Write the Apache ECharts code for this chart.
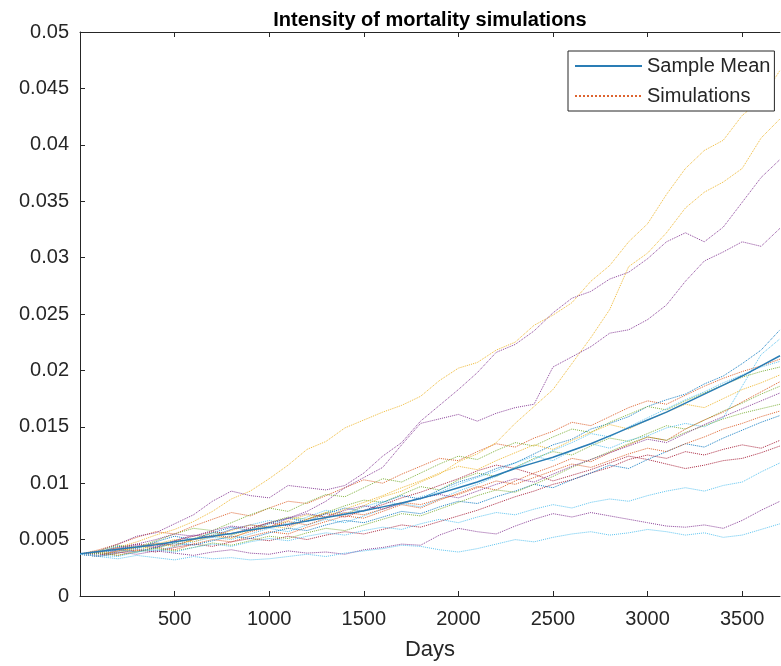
<!DOCTYPE html>
<html>
<head>
<meta charset="utf-8">
<title>Intensity of mortality simulations</title>
<script src="https://cdn.jsdelivr.net/npm/echarts@6.0.0/dist/echarts.min.js"></script>
<style>
  html, body { margin: 0; padding: 0; background: #fff; }
  #main { width: 781px; height: 666px; }
</style>
</head>
<body>
<div id="main"></div>
<script>
// sampling days
const days = [0, 100, 200, 300, 400, 500, 600, 700, 800, 900, 1000, 1100, 1200, 1300, 1400, 1500, 1600, 1700, 1800,
  1900, 2000, 2100, 2200, 2300, 2400, 2500, 2600, 2700, 2800, 2900, 3000, 3100, 3200, 3300, 3400, 3500, 3600, 3700];

// axis ticks
const xTicks = [500, 1000, 1500, 2000, 2500, 3000, 3500];
const yTicks = [0, 0.005, 0.01, 0.015, 0.02, 0.025, 0.03, 0.035, 0.04, 0.045, 0.05];

// sample mean
const sampleMean = [0.00375, 0.00395, 0.00415, 0.00435, 0.00455, 0.0048, 0.00505, 0.0053, 0.00555, 0.00585, 0.0061,
  0.00635, 0.00665, 0.00695, 0.00725, 0.00755, 0.0079, 0.00825, 0.00865, 0.0091, 0.0096, 0.0101, 0.0107, 0.0113,
  0.0118, 0.0123, 0.0129, 0.0135, 0.0142, 0.0149, 0.0156, 0.0163, 0.0171, 0.0179, 0.0187, 0.0195, 0.0204, 0.0213];

// simulations
const simOrange1 = [0.0037, 0.0041, 0.0046, 0.0052, 0.0057, 0.0055, 0.0062, 0.0068, 0.0074, 0.0071, 0.0078, 0.0084,
  0.0082, 0.0089, 0.0096, 0.0103, 0.01, 0.0108, 0.0115, 0.0122, 0.012, 0.0128, 0.0135, 0.0132, 0.014, 0.0146, 0.0154,
  0.0151, 0.0159, 0.0167, 0.0173, 0.017, 0.0178, 0.0186, 0.0193, 0.0199, 0.0204, 0.021];
const simYellowTop = [0.0037, 0.0039, 0.0043, 0.0048, 0.0054, 0.0059, 0.0066, 0.0075, 0.0086, 0.0093, 0.0104, 0.0116,
  0.013, 0.0137, 0.0149, 0.0156, 0.0163, 0.0169, 0.0177, 0.0191, 0.0202, 0.0207, 0.0218, 0.0225, 0.024, 0.0249, 0.026,
  0.0279, 0.0293, 0.0314, 0.033, 0.0356, 0.0379, 0.0395, 0.0404, 0.0426, 0.044, 0.0466];
const simPurpleTop = [0.0037, 0.004, 0.0046, 0.0053, 0.0056, 0.0064, 0.0072, 0.0084, 0.0093, 0.0089, 0.0087, 0.0098,
  0.0096, 0.0094, 0.0098, 0.0109, 0.0124, 0.0136, 0.0155, 0.0169, 0.0183, 0.0198, 0.0216, 0.0223, 0.0235, 0.0251,
  0.0264, 0.027, 0.0281, 0.0287, 0.0299, 0.0314, 0.0322, 0.0314, 0.0327, 0.0349, 0.0371, 0.0387];
const simGreen1 = [0.0037, 0.0036, 0.004, 0.0044, 0.0042, 0.0047, 0.0051, 0.0056, 0.0054, 0.0059, 0.0065, 0.007,
  0.0068, 0.0074, 0.008, 0.0085, 0.0083, 0.009, 0.0097, 0.0094, 0.0103, 0.0109, 0.0106, 0.0114, 0.0122, 0.0128,
  0.0125, 0.0133, 0.014, 0.0137, 0.0144, 0.0151, 0.0148, 0.0156, 0.0164, 0.0171, 0.0179, 0.0186];
const simLightBlue1 = [0.0037, 0.0035, 0.0039, 0.0043, 0.0047, 0.0045, 0.005, 0.0054, 0.0059, 0.0063, 0.0067, 0.0064,
  0.007, 0.0076, 0.0073, 0.0079, 0.0084, 0.0081, 0.0088, 0.0092, 0.0099, 0.0105, 0.0111, 0.0118, 0.0124, 0.012,
  0.0129, 0.0135, 0.0131, 0.0138, 0.0142, 0.0149, 0.0153, 0.015, 0.0158, 0.0186, 0.0214, 0.0228];
const simDarkRed1 = [0.0037, 0.0039, 0.0043, 0.0046, 0.0044, 0.0049, 0.0053, 0.0057, 0.0055, 0.006, 0.0065, 0.0062,
  0.0068, 0.0073, 0.007, 0.0076, 0.0081, 0.0087, 0.0092, 0.0098, 0.0104, 0.0111, 0.0116, 0.0113, 0.0108, 0.0102,
  0.0107, 0.0112, 0.0118, 0.0124, 0.0121, 0.0117, 0.0113, 0.0116, 0.012, 0.0122, 0.0127, 0.0133];
const simBlue1 = [0.0037, 0.0039, 0.0044, 0.0042, 0.0048, 0.0053, 0.005, 0.0056, 0.0061, 0.0058, 0.0064, 0.0069,
  0.0066, 0.0073, 0.0078, 0.0075, 0.0083, 0.0089, 0.0086, 0.0094, 0.0101, 0.0106, 0.0113, 0.0118, 0.0126, 0.0134,
  0.0139, 0.0148, 0.0153, 0.0159, 0.0168, 0.0174, 0.0179, 0.0188, 0.0195, 0.0206, 0.0218, 0.0236];
const simOrange2 = [0.0037, 0.0038, 0.0036, 0.004, 0.0043, 0.0041, 0.0046, 0.005, 0.0048, 0.0053, 0.0057, 0.0055,
  0.0061, 0.0066, 0.0071, 0.0069, 0.0075, 0.0081, 0.0078, 0.0085, 0.0091, 0.0097, 0.0094, 0.0102, 0.0109, 0.0115,
  0.0122, 0.0119, 0.0127, 0.0134, 0.0141, 0.0138, 0.0148, 0.0156, 0.0163, 0.0172, 0.0181, 0.019];
const simYellowSteep = [0.0037, 0.0038, 0.0042, 0.004, 0.0046, 0.0044, 0.005, 0.0053, 0.0051, 0.0058, 0.0062, 0.006,
  0.0068, 0.0074, 0.0072, 0.008, 0.0088, 0.0093, 0.0101, 0.0108, 0.0119, 0.0126, 0.0136, 0.0153, 0.0168, 0.0183,
  0.0206, 0.0229, 0.0254, 0.0292, 0.0304, 0.0322, 0.0344, 0.0358, 0.0367, 0.0379, 0.0406, 0.0423];
const simPurple2 = [0.0037, 0.0036, 0.0041, 0.0045, 0.0043, 0.0049, 0.0054, 0.0052, 0.0059, 0.0063, 0.0061, 0.0069,
  0.0075, 0.0084, 0.0096, 0.0105, 0.0114, 0.0134, 0.0153, 0.0157, 0.0161, 0.0155, 0.0162, 0.0167, 0.017, 0.0203,
  0.0212, 0.0221, 0.0233, 0.0236, 0.0245, 0.0258, 0.0279, 0.0297, 0.0305, 0.0314, 0.031, 0.0326];
const simGreen2 = [0.0037, 0.004, 0.0045, 0.0043, 0.0049, 0.0055, 0.006, 0.0058, 0.0065, 0.0072, 0.0078, 0.0075,
  0.0083, 0.009, 0.0088, 0.0096, 0.0104, 0.0101, 0.0109, 0.0117, 0.0124, 0.0121, 0.0129, 0.0136, 0.0133, 0.0141,
  0.0148, 0.0145, 0.0154, 0.0161, 0.0168, 0.0165, 0.0173, 0.018, 0.0187, 0.0194, 0.0199, 0.0203];
const simLightBlue2 = [0.0037, 0.0035, 0.0038, 0.0042, 0.004, 0.0044, 0.0048, 0.0052, 0.005, 0.0055, 0.006, 0.0057,
  0.0063, 0.0068, 0.0065, 0.0071, 0.0077, 0.0082, 0.0079, 0.0086, 0.0093, 0.0099, 0.0106, 0.0114, 0.0121, 0.0129,
  0.0136, 0.0144, 0.0141, 0.015, 0.0158, 0.0166, 0.0174, 0.0181, 0.0189, 0.0196, 0.0203, 0.0208];
const simDarkRed2 = [0.0037, 0.0035, 0.0038, 0.0041, 0.0039, 0.0043, 0.0046, 0.0044, 0.0048, 0.0051, 0.0049, 0.0053,
  0.005, 0.0054, 0.0057, 0.0055, 0.0059, 0.0063, 0.0061, 0.0066, 0.0071, 0.0076, 0.0082, 0.0088, 0.0093, 0.0099,
  0.0103, 0.0109, 0.0114, 0.0121, 0.0125, 0.0122, 0.0128, 0.0125, 0.013, 0.0134, 0.0131, 0.0138];
const simBlue2 = [0.0037, 0.0038, 0.0041, 0.0039, 0.0043, 0.0047, 0.0045, 0.0049, 0.0053, 0.0051, 0.0056, 0.006,
  0.0058, 0.0063, 0.0067, 0.0065, 0.007, 0.0075, 0.0073, 0.0079, 0.0084, 0.0082, 0.0088, 0.0093, 0.0099, 0.0096,
  0.0103, 0.0109, 0.0116, 0.0113, 0.0121, 0.0128, 0.0135, 0.0132, 0.014, 0.0147, 0.0154, 0.016];
const simOrange3 = [0.0037, 0.0036, 0.004, 0.0043, 0.0047, 0.0045, 0.005, 0.0054, 0.0052, 0.0057, 0.0061, 0.0066,
  0.0063, 0.0069, 0.0074, 0.0072, 0.0077, 0.0083, 0.0081, 0.0086, 0.009, 0.0096, 0.0102, 0.0099, 0.0105, 0.0111,
  0.0117, 0.0114, 0.012, 0.0126, 0.0131, 0.0128, 0.0135, 0.0141, 0.0148, 0.0153, 0.0159, 0.0164];
const simYellow3 = [0.0037, 0.0039, 0.0038, 0.0043, 0.0046, 0.005, 0.0048, 0.0053, 0.0058, 0.0063, 0.0061, 0.0067,
  0.0072, 0.007, 0.0077, 0.0083, 0.0089, 0.0096, 0.0102, 0.0109, 0.0115, 0.0112, 0.012, 0.0127, 0.0134, 0.013, 0.0138,
  0.0145, 0.0152, 0.0148, 0.0156, 0.0163, 0.017, 0.0167, 0.0175, 0.0183, 0.0189, 0.0196];
const simPurpleLow = [0.0037, 0.0036, 0.0039, 0.0037, 0.004, 0.0038, 0.0036, 0.0039, 0.0041, 0.0038, 0.0037, 0.004,
  0.0038, 0.0039, 0.0037, 0.0041, 0.0043, 0.0046, 0.0045, 0.0054, 0.006, 0.0057, 0.0055, 0.0062, 0.0068, 0.0073,
  0.007, 0.0074, 0.0071, 0.0068, 0.0065, 0.0062, 0.0061, 0.0063, 0.006, 0.0067, 0.0076, 0.0084];
const simGreen3 = [0.0037, 0.0038, 0.0036, 0.0039, 0.0042, 0.004, 0.0043, 0.0047, 0.0045, 0.0049, 0.0053, 0.0051,
  0.0056, 0.006, 0.0058, 0.0063, 0.0068, 0.0073, 0.0071, 0.0077, 0.0083, 0.0089, 0.0094, 0.0092, 0.0099, 0.0106,
  0.0114, 0.0121, 0.0128, 0.0135, 0.0141, 0.0138, 0.0145, 0.0151, 0.0157, 0.0162, 0.0166, 0.017];
const simLightBlueMid = [0.0037, 0.0036, 0.0035, 0.0039, 0.0041, 0.0039, 0.0043, 0.0046, 0.0044, 0.0048, 0.0051,
  0.0049, 0.0053, 0.0056, 0.0054, 0.0058, 0.0061, 0.0059, 0.0064, 0.0068, 0.0065, 0.007, 0.0074, 0.0072, 0.0077,
  0.0081, 0.0078, 0.0083, 0.0086, 0.0084, 0.0089, 0.0093, 0.0096, 0.0093, 0.0098, 0.0101, 0.011, 0.0118];
const simPurple4 = [0.0037, 0.0039, 0.0042, 0.0046, 0.005, 0.0055, 0.0053, 0.0058, 0.0062, 0.006, 0.0065, 0.0069,
  0.0073, 0.007, 0.0076, 0.008, 0.0077, 0.0082, 0.0087, 0.009, 0.0087, 0.0093, 0.0099, 0.0104, 0.0101, 0.0108, 0.0115,
  0.0121, 0.0127, 0.0133, 0.0139, 0.0136, 0.0144, 0.0152, 0.0159, 0.0166, 0.0173, 0.018];
const simLightBlueLow = [0.0037, 0.0035, 0.0033, 0.0036, 0.0034, 0.0032, 0.0035, 0.0033, 0.0034, 0.0032, 0.0033,
  0.0035, 0.0037, 0.0035, 0.0038, 0.004, 0.0042, 0.0045, 0.0044, 0.0041, 0.0039, 0.0042, 0.0046, 0.005, 0.0048,
  0.0052, 0.0055, 0.0057, 0.0054, 0.0056, 0.0059, 0.0057, 0.0054, 0.0056, 0.0052, 0.0054, 0.0059, 0.0064];

// MATLAB default colour order
const simulations = [
  { data: simOrange1, color: '#D95319' },
  { data: simYellowTop, color: '#EDB120' },
  { data: simPurpleTop, color: '#7E2F8E' },
  { data: simGreen1, color: '#77AC30' },
  { data: simLightBlue1, color: '#4DBEEE' },
  { data: simDarkRed1, color: '#A2142F' },
  { data: simBlue1, color: '#0072BD' },
  { data: simOrange2, color: '#D95319' },
  { data: simYellowSteep, color: '#EDB120' },
  { data: simPurple2, color: '#7E2F8E' },
  { data: simGreen2, color: '#77AC30' },
  { data: simLightBlue2, color: '#4DBEEE' },
  { data: simDarkRed2, color: '#A2142F' },
  { data: simBlue2, color: '#0072BD' },
  { data: simOrange3, color: '#D95319' },
  { data: simYellow3, color: '#EDB120' },
  { data: simPurpleLow, color: '#7E2F8E' },
  { data: simGreen3, color: '#77AC30' },
  { data: simLightBlueMid, color: '#4DBEEE' },
  { data: simPurple4, color: '#7E2F8E' },
  { data: simLightBlueLow, color: '#4DBEEE' }
];

const axisColor = '#262626';
const font = 'Liberation Sans, Arial, Helvetica, sans-serif';

const pairs = (vals) => days.map((d, i) => [d, vals[i]]);

const series = simulations.map((s, i) => ({
  name: i === 0 ? 'Simulations' : 'sim' + i,
  type: 'line',
  data: pairs(s.data),
  symbol: 'none',
  showSymbol: false,
  silent: true,
  z: 2,
  lineStyle: { type: 'dotted', width: 1, color: s.color, opacity: 0.9 },
  itemStyle: { color: s.color }
}));

series.unshift({
  name: 'Sample Mean',
  type: 'line',
  data: pairs(sampleMean),
  symbol: 'none',
  showSymbol: false,
  silent: true,
  z: 5,
  lineStyle: { type: 'solid', width: 1.5, color: '#2a7db5' },
  itemStyle: { color: '#2a7db5' }
});

const chart = echarts.init(document.getElementById('main'));
chart.setOption({
  animation: false,
  backgroundColor: '#fff',
  textStyle: { fontFamily: font },
  title: {
    text: 'Intensity of mortality simulations',
    left: 430,
    textAlign: 'center',
    top: 10,
    padding: 0,
    textStyle: { fontSize: 20, fontWeight: 'bold', color: '#000', fontFamily: font }
  },
  legend: {
    data: ['Sample Mean', 'Simulations'],
    orient: 'vertical',
    left: 568,
    top: 51,
    padding: [5, 4, 5, 6],
    itemGap: 10,
    itemWidth: 67,
    itemHeight: 20,
    backgroundColor: '#fff',
    borderColor: axisColor,
    borderWidth: 1,
    borderRadius: 0,
    selectedMode: false,
    itemStyle: { opacity: 0 },
    textStyle: { fontSize: 20, color: axisColor, fontFamily: font }
  },
  grid: { left: 80, right: 1, top: 32, bottom: 69, containLabel: false },
  xAxis: [
    {
      type: 'value',
      min: 0,
      max: 3700,
      position: 'bottom',
      name: 'Days',
      nameLocation: 'middle',
      nameGap: 43,
      nameTextStyle: { fontSize: 22, color: axisColor, fontFamily: font },
      splitLine: { show: false },
      axisLine: { show: true, lineStyle: { color: axisColor, width: 1 } },
      axisTick: { inside: true, length: 5, customValues: xTicks, lineStyle: { color: axisColor } },
      axisLabel: {
        customValues: xTicks,
        margin: 13,
        fontSize: 20,
        color: axisColor,
        fontFamily: font,
        formatter: (v) => String(v)
      }
    },
    {
      type: 'value',
      min: 0,
      max: 3700,
      position: 'top',
      splitLine: { show: false },
      axisLine: { show: true, lineStyle: { color: axisColor, width: 1 } },
      axisTick: { inside: true, length: 5, customValues: xTicks, lineStyle: { color: axisColor } },
      axisLabel: { show: false }
    }
  ],
  yAxis: {
    type: 'value',
    min: 0,
    max: 0.05,
    interval: 0.005,
    splitLine: { show: false },
    axisLine: { show: true, lineStyle: { color: axisColor, width: 1 } },
    axisTick: { inside: true, length: 5, customValues: yTicks, lineStyle: { color: axisColor } },
    axisLabel: {
      customValues: yTicks,
      margin: 11,
      fontSize: 20,
      color: axisColor,
      fontFamily: font,
      formatter: (v) => String(+v.toFixed(3))
    }
  },
  series: series
});
</script>
</body>
</html>
